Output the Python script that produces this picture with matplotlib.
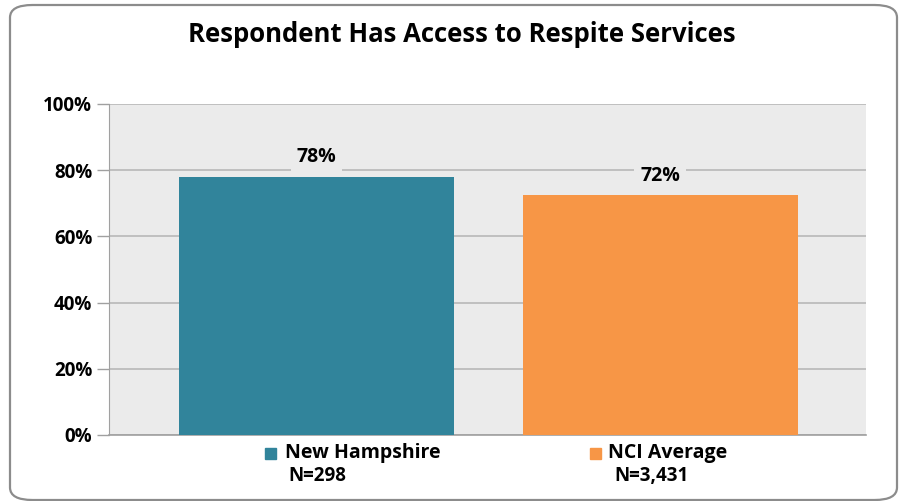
import matplotlib
matplotlib.use('Agg')
import matplotlib.pyplot as plt
from matplotlib.patches import FancyBboxPatch, Rectangle

plt.rcParams['font.family'] = ['Open Sans', 'DejaVu Sans']
plt.rcParams['font.weight'] = 'bold'

title = 'Respondent Has Access to Respite Services'
series = ['New Hampshire', 'NCI Average']
counts = ['N=298', 'N=3,431']
values = [78.0, 72.4]
labels = ['78%', '72%']
colors = ['#31849b', '#f79646']
yticks = [0, 20, 40, 60, 80, 100]

fig = plt.figure(figsize=(9, 5.01), dpi=100)
W, H = 900, 501

# rounded outer frame
frame = FancyBboxPatch((10 / W, 1 - 500 / H), 887 / W, 495 / H,
                       boxstyle='round,pad=0,rounding_size=0.025',
                       transform=fig.transFigure, fill=False,
                       edgecolor='#8c8c8c', linewidth=1.6, zorder=0)
fig.patches.append(frame)

ax = fig.add_axes([109 / W, 1 - 435 / H, 757 / W, 331 / H])
ax.set_facecolor('#ebebeb')

x = [0, 1]
ax.bar(x, values, width=0.8, color=colors, zorder=3)
ax.set_xlim(-0.603, 1.599)
ax.set_ylim(0, 100)

ax.set_yticks(yticks)
ax.set_yticklabels([f'{t}%' for t in yticks], fontsize=13.5, fontweight='bold')
ax.tick_params(axis='y', length=9, width=1, color='#a0a0a0', pad=3)
ax.set_xticks([])
ax.yaxis.grid(True, color='#b8b8b8', linewidth=1.2, zorder=1)
ax.set_axisbelow(True)
for s in ['top', 'right']:
    ax.spines[s].set_visible(False)
ax.spines['left'].set_color('#a0a0a0')
ax.spines['bottom'].set_color('#a0a0a0')
ax.spines['bottom'].set_linewidth(1.2)

for xi, v, lab in zip(x, values, labels):
    ax.annotate(lab, (xi, v), xytext=(0, 14), textcoords='offset points',
                ha='center', va='center', fontsize=14, fontweight='bold',
                bbox=dict(boxstyle='square,pad=0.3', fc='#ebebeb', ec='none'),
                zorder=4)

fig.text(462 / W, 1 - 35 / H, title, ha='center', va='center',
         fontsize=18.5, fontweight='bold')

# legend below the axis
legend_pos = [(265, 285, 317), (590, 608, 652)]
for (sq, tx, nx), name, n, c in zip(legend_pos, series, counts, colors):
    fig.patches.append(Rectangle((sq / W, 1 - 459 / H), 11 / W, 11 / H,
                                 transform=fig.transFigure, color=c))
    fig.text(tx / W, 1 - 453 / H, name, ha='left', va='center',
             fontsize=14, fontweight='bold')
    fig.text(nx / W, 1 - 476 / H, n, ha='center', va='center',
             fontsize=13.5, fontweight='bold')

fig.savefig('out.png', dpi=100)
